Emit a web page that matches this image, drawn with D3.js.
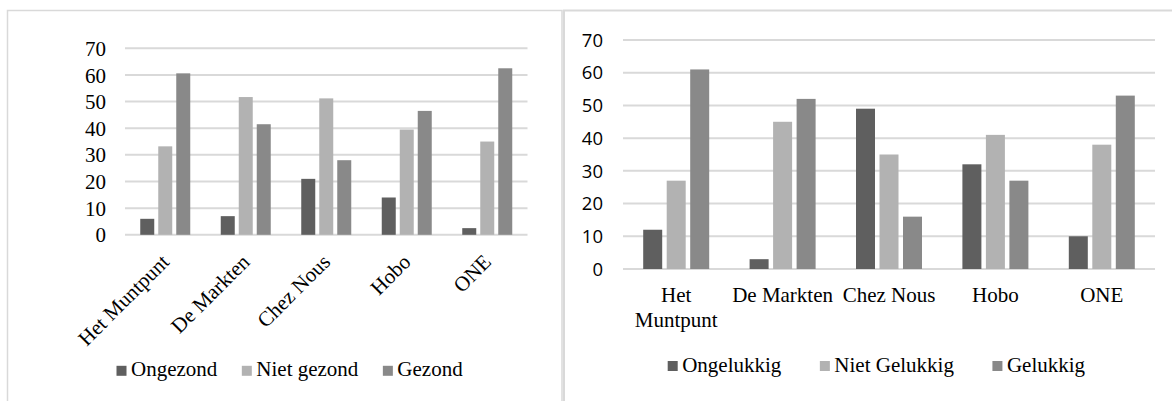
<!DOCTYPE html>
<html>
<head>
<meta charset="utf-8">
<script src="https://cdn.jsdelivr.net/npm/d3@7"></script>
<style>
  html, body { margin: 0; padding: 0; background: #fff; }
  svg { display: block; }
  .serif { font-family: "Liberation Serif", "Times New Roman", Times, "DejaVu Serif", serif; }
  .sans { font-family: "Open Sans", "Noto Sans", sans-serif; }
</style>
</head>
<body>
<svg id="chart" width="1172" height="401"></svg>
<script>
// ---- data ----
const categories = ["Het Muntpunt", "De Markten", "Chez Nous", "Hobo", "ONE"];
const yTicks = [0, 10, 20, 30, 40, 50, 60, 70];

const healthSeries = ["Ongezond", "Niet gezond", "Gezond"];
const ongezond   = [6, 7, 21, 14, 2.5];
const nietGezond = [33.2, 51.7, 51.2, 39.5, 35];
const gezond     = [60.6, 41.5, 28, 46.5, 62.5];

const happySeries = ["Ongelukkig", "Niet Gelukkig", "Gelukkig"];
const ongelukkig     = [12, 3, 49, 32, 10];
const nietGelukkig   = [27, 45, 35, 41, 38];
const gelukkig       = [61, 52, 16, 27, 53];

const seriesColors = ["#5f5f5f", "#b2b2b2", "#898989"];

// ---- drawing ----
const svg = d3.select("#chart");
const GRID = "#d9d9d9";

svg.append("rect").attr("x", 7.5).attr("y", 10.5).attr("width", 554.5).attr("height", 420)
  .attr("fill", "none").attr("stroke", GRID).attr("stroke-width", 1.5);
svg.append("rect").attr("x", 564).attr("y", 10.5).attr("width", 620).attr("height", 420)
  .attr("fill", "none").attr("stroke", GRID).attr("stroke-width", 2);

function drawChart(cfg) {
  const g = svg.append("g");
  const y = d3.scaleLinear().domain([0, 70]).range([cfg.y0, cfg.y70]);
  const x = d3.scaleBand().domain(categories).range([cfg.xl, cfg.xr]).padding(0);

  g.selectAll("line.grid").data(yTicks).join("line")
    .attr("x1", cfg.xl).attr("x2", cfg.xr)
    .attr("y1", d => y(d)).attr("y2", d => y(d))
    .attr("stroke", GRID).attr("stroke-width", 2);

  g.selectAll("text.ytick").data(yTicks).join("text")
    .attr("class", cfg.yClass)
    .attr("x", cfg.yLabelX).attr("y", d => y(d))
    .attr("dy", "0.36em")
    .attr("text-anchor", "end")
    .style("font-size", cfg.yFontSize + "px")
    .attr("fill", "#000")
    .text(d => d);

  const step = cfg.barW + cfg.barGap;
  cfg.values.forEach((vals, si) => {
    g.selectAll("rect.s" + si).data(vals).join("rect")
      .attr("x", (d, i) => x(categories[i]) + x.bandwidth() / 2 + (si - 1) * step - cfg.barW / 2)
      .attr("width", cfg.barW)
      .attr("y", d => y(d))
      .attr("height", d => y(0) - y(d))
      .attr("fill", seriesColors[si]);
  });

  if (cfg.rotate) {
    g.selectAll("text.xl").data(categories).join("text")
      .attr("class", "serif")
      .attr("transform", d => `translate(${x(d) + x.bandwidth() / 2 + cfg.rotDx},${cfg.rotY}) rotate(-45)`)
      .attr("dy", "0.35em")
      .attr("text-anchor", "end")
      .style("font-size", "21px")
      .attr("fill", "#000")
      .text(d => d);
  } else {
    g.selectAll("text.xl").data(categories).join("text")
      .attr("class", "serif")
      .attr("x", d => x(d) + x.bandwidth() / 2)
      .attr("y", cfg.xLabelY)
      .attr("text-anchor", "middle")
      .style("font-size", "21px")
      .attr("fill", "#000")
      .each(function (d) {
        const t = d3.select(this);
        t.text(d);
        if (this.getComputedTextLength() > x.bandwidth()) {
          const words = d.split(" ");
          t.text(null);
          words.forEach((w, wi) => {
            t.append("tspan").attr("x", x(d) + x.bandwidth() / 2)
              .attr("dy", wi === 0 ? 0 : cfg.lineH).text(w);
          });
        }
      });
  }

  let lx = cfg.legX;
  cfg.series.forEach((s, si) => {
    g.append("rect").attr("x", lx).attr("y", cfg.legY - 10.5).attr("width", 10).attr("height", 10)
      .attr("fill", seriesColors[si]);
    const t = g.append("text").attr("class", "serif").attr("x", lx + 14.5).attr("y", cfg.legY)
      .style("font-size", "21px").attr("fill", "#000").text(s);
    lx += 14.5 + t.node().getComputedTextLength() + cfg.legGap;
  });
}

drawChart({
  xl: 125, xr: 527.5, y0: 234.8, y70: 48.3,
  yLabelX: 106, yClass: "serif", yFontSize: 21,
  barW: 14, barGap: 4,
  values: [ongezond, nietGezond, gezond],
  series: healthSeries,
  rotate: true, rotDx: 0, rotY: 258,
  legX: 116.5, legY: 376.3, legGap: 24.5
});

drawChart({
  xl: 623, xr: 1155, y0: 269, y70: 40,
  yLabelX: 603, yClass: "sans", yFontSize: 18.5,
  barW: 19, barGap: 4.5,
  values: [ongelukkig, nietGelukkig, gelukkig],
  series: happySeries,
  rotate: false, xLabelY: 302.3, lineH: 24.4,
  legX: 667.7, legY: 371.5, legGap: 38.5
});
</script>
</body>
</html>
